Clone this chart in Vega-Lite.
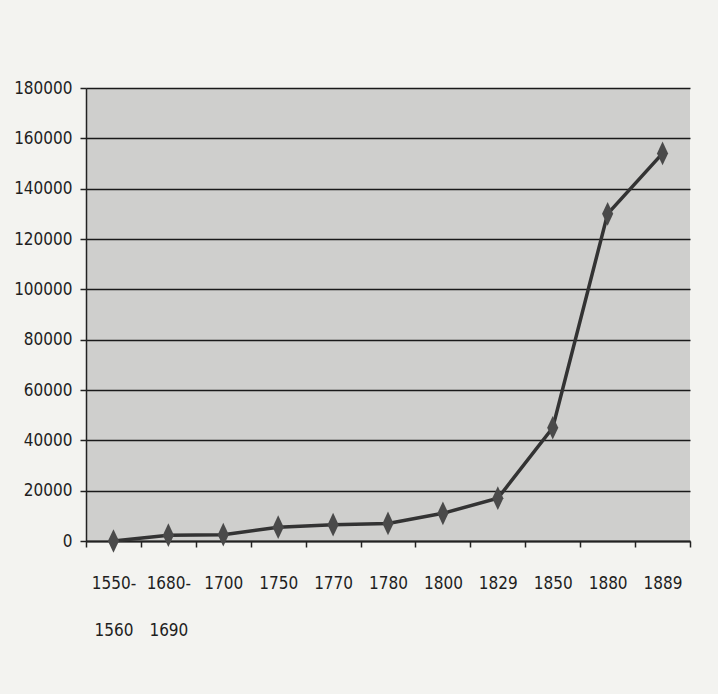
{
  "$schema": "https://vega.github.io/schema/vega-lite/v6.json",
  "width": 604,
  "height": 453,
  "autosize": "none",
  "padding": {"left": 86, "top": 88, "right": 28, "bottom": 153},
  "background": "#f3f3f0",
  "config": {
    "view": {"fill": "#cfcfcd", "stroke": null},
    "axis": {
      "labelFont": "'Liberation Sans Narrow', 'DejaVu Sans Condensed', 'Roboto Condensed', 'Arial Narrow', 'Liberation Sans', sans-serif",
      "labelFontSize": 17,
      "labelColor": "#1e1e1e",
      "domainColor": "#222222",
      "tickColor": "#222222",
      "title": null
    }
  },
  "data": {
    "values": [
      {"period": "1550-1560", "value": 0},
      {"period": "1680-1690", "value": 2300},
      {"period": "1700", "value": 2500},
      {"period": "1750", "value": 5500},
      {"period": "1770", "value": 6500},
      {"period": "1780", "value": 7000},
      {"period": "1800", "value": 11000},
      {"period": "1829", "value": 17000},
      {"period": "1850", "value": 45000},
      {"period": "1880", "value": 130000},
      {"period": "1889", "value": 154000}
    ]
  },
  "encoding": {
    "x": {
      "field": "period",
      "type": "ordinal",
      "sort": null,
      "bandPosition": 0.5,
      "scale": {"type": "band", "paddingInner": 0, "paddingOuter": 0},
      "axis": {
        "labelAngle": 0,
        "tickBand": "extent",
        "tickSize": 6,
        "tickWidth": 1.5,
        "domainWidth": 2,
        "labelPadding": 28,
        "labelLineHeight": 47,
        "labelBaseline": "top",
        "labelExpr": "indexof(datum.label, '-') > 0 ? [slice(datum.label, 0, 5), slice(datum.label, 5)] : datum.label"
      }
    },
    "y": {
      "field": "value",
      "type": "quantitative",
      "scale": {"domain": [0, 180000]},
      "axis": {
        "values": [0, 20000, 40000, 60000, 80000, 100000, 120000, 140000, 160000, 180000],
        "grid": true,
        "gridColor": "#1a1a1a",
        "gridWidth": 1.5,
        "gridOpacity": 1,
        "tickSize": 6,
        "tickWidth": 1.5,
        "domainWidth": 1.5,
        "labelPadding": 8,
        "format": "d"
      }
    }
  },
  "layer": [
    {"mark": {"type": "line", "color": "#333333", "strokeWidth": 3.5}},
    {"mark": {"type": "point", "shape": "M0,-1.6L0.75,0L0,1.6L-0.75,0Z", "filled": true, "size": 220, "color": "#4a4a4a", "opacity": 1}}
  ]
}
